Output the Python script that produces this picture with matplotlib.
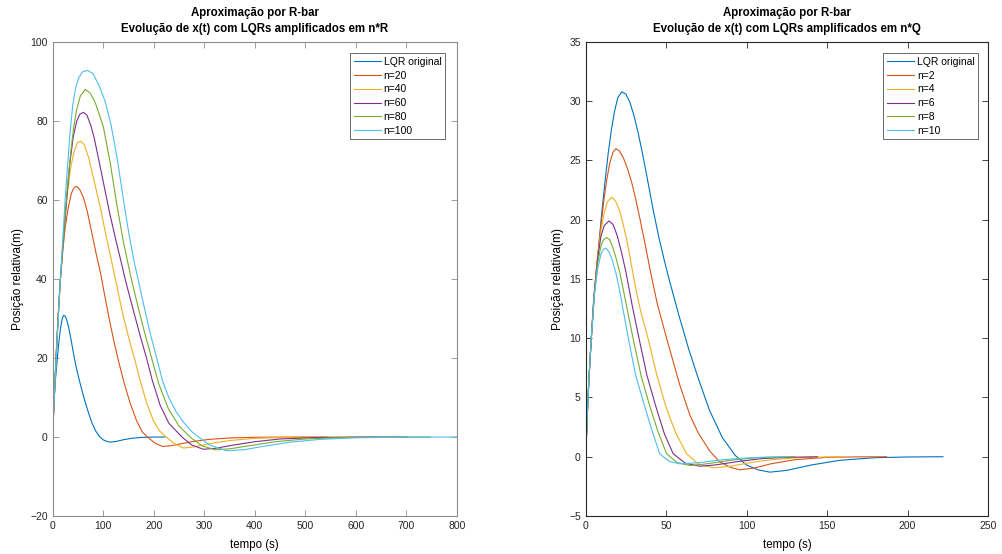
import numpy as np
import matplotlib.pyplot as plt

# ============================================================
# Data (tempo em s, posição em m)
# ============================================================

# LQR original (same curve on both panels)
t_orig = [0, 1, 2, 3.5, 5, 6.5, 8, 10, 12, 14, 16, 18, 20, 22.4, 25, 27.5, 30, 32.5, 35,
          38, 42, 45.5, 49, 52, 58, 64, 70, 77, 85, 93, 100, 107, 114.5, 125, 140, 158,
          180, 200, 222]
x_orig = [0, 3.5, 6.5, 10, 13.3, 15.5, 17.6, 20.6, 23.2, 25.6, 27.6, 29.2, 30.3, 30.8,
          30.6, 29.9, 28.8, 27.4, 25.8, 23.7, 20.8, 18.5, 16.5, 14.9, 11.9, 9.1, 6.6, 3.9,
          1.6, 0.1, -0.7, -1.1, -1.3, -1.15, -0.7, -0.3, -0.08, -0.02, 0]

# --- n*R (left panel) ---
t_r20 = [0, 3.5, 7, 11, 15, 19.5, 25, 31, 37, 40, 43, 45.5, 47.9, 51, 54, 61, 69, 78, 87,
         95, 103, 112, 121, 130, 141, 153, 166, 178, 188, 203, 218, 235, 255, 280, 310,
         350, 400, 460, 543]
x_r20 = [0, 10, 20, 30, 38.5, 46, 53, 58, 61.5, 62.5, 63.1, 63.35, 63.4, 63.1, 62.6, 60.7,
         57, 51.5, 46, 41.5, 36, 30, 24.5, 19.5, 14, 8.8, 4.2, 1.2, 0, -1.6, -2.4, -2.2,
         -1.7, -1.1, -0.6, -0.25, -0.08, -0.02, 0]

t_r40 = [0, 3.5, 7, 11, 15, 20, 28, 35, 42, 49, 55.8, 63, 72, 82, 94, 105, 117, 126, 140,
         152, 163, 175, 186.5, 200, 212, 225, 240, 259, 280, 310, 350, 400, 460, 540, 641]
x_r40 = [0, 10, 20, 30, 39, 47, 60, 67.5, 72, 74.4, 74.9, 74, 70.5, 65, 58.5, 51.5, 44.4,
         39, 30.5, 24.5, 19.5, 13.5, 8.5, 4, 1.5, 0, -1.6, -2.8, -2.5, -1.7, -0.9, -0.35,
         -0.1, -0.02, 0]

t_r60 = [0, 3.5, 7, 11, 15, 20, 26.6, 34, 41, 48, 54, 61, 68, 76, 82.8, 95, 112.5, 125,
         135.6, 143.6, 160, 173, 186, 197, 213, 230, 256, 275, 298, 320, 360, 400, 450, 520,
         600, 701]
x_r60 = [0, 10, 20, 30, 39, 47.5, 58, 69, 76, 80, 81.7, 82.2, 81.5, 78.8, 75.5, 68, 57,
         50, 44.4, 40, 32, 25.8, 20, 14.5, 8, 3.5, 0, -2, -3.1, -2.9, -2, -1.2, -0.5, -0.15,
         -0.03, 0]

t_r80 = [0, 3.5, 7, 11, 15, 20, 24.8, 30, 36, 42, 48, 55, 65, 75, 85, 100.6, 114, 127, 140,
         150, 156.8, 170, 183, 196, 210, 229, 250, 272, 295, 322, 350, 390, 440, 500, 570,
         650, 747]
x_r80 = [0, 10, 20, 30, 39, 48, 56, 64, 72, 78.5, 83, 86.3, 88, 87, 84.5, 78.5, 69.5, 59,
         49.5, 43.5, 39.5, 32.5, 26, 20, 13.5, 7.2, 2.8, 0, -2.2, -3.25, -3, -2.2, -1.2,
         -0.5, -0.15, -0.04, 0]

t_r100 = [0, 4, 8, 12, 16, 20, 25, 30, 34, 40, 46, 52, 60, 69.7, 80, 92, 104, 115.8, 128,
          140, 151, 161.4, 170, 182, 193, 205, 218, 230, 244, 260, 275, 289, 310, 345, 380,
          420, 470, 530, 600, 700, 800]
x_r100 = [0, 11, 21.5, 31.5, 41, 49.5, 60, 69, 76, 84, 88.5, 91, 92.5, 92.8, 92, 89, 85,
          79, 70.5, 60.3, 51.5, 44.4, 39.5, 32.5, 26.4, 20.5, 14, 10, 6.5, 3.6, 1.4, 0, -2,
          -3.5, -3.2, -2.3, -1.3, -0.6, -0.2, -0.04, 0]

# --- n*Q (right panel) ---
t_q2 = [0, 1, 2, 3.5, 5, 7, 9, 11, 13, 15, 17, 18.8, 21, 23.5, 26, 28.5, 31, 34, 37, 40,
        44.5, 50.7, 58.6, 64.8, 70, 77, 83, 90, 95.8, 105, 115, 130, 150, 170, 187]
x_q2 = [0, 3.5, 6.5, 10, 13.2, 16.3, 18.9, 21.3, 23.3, 24.8, 25.7, 26, 25.8, 25.2, 24.3,
        23.2, 21.8, 19.9, 17.9, 15.8, 12.9, 9.8, 6, 3.5, 2, 0.5, -0.4, -0.9, -1.1, -0.95,
        -0.6, -0.25, -0.05, -0.01, 0]

t_q4 = [0, 1, 2, 3.5, 5.5, 7.5, 9.5, 11.5, 13.5, 16.1, 18.5, 21, 23.5, 26, 28, 30, 32, 34,
        38.9, 44, 49.9, 56, 62.7, 70, 79.3, 90, 100, 115, 130, 145, 160]
x_q4 = [0, 3.5, 6.5, 10, 14, 16.9, 19.1, 20.6, 21.5, 21.9, 21.6, 20.8, 19.5, 18, 16.5, 15,
        13.6, 12.4, 9.9, 7, 4.2, 2, 0.25, -0.6, -0.94, -0.8, -0.55, -0.25, -0.1, -0.03, 0]

t_q6 = [0, 1, 2, 3.5, 5.5, 7.5, 9.5, 11.5, 14.5, 17, 19.5, 22, 25, 29, 33.3, 38, 43.7, 49,
        54.4, 62, 71, 80, 95, 110, 125, 144]
x_q6 = [0, 3.5, 6.5, 10, 14, 16.8, 18.6, 19.5, 19.9, 19.6, 18.7, 17.4, 15.6, 12.7, 9.9,
        6.9, 4.2, 1.9, 0.25, -0.55, -0.8, -0.7, -0.4, -0.15, -0.05, 0]

t_q8 = [0, 1, 2, 3.5, 5.5, 7.5, 9.5, 11, 13, 15, 17, 19, 21.3, 25, 29.6, 34.5, 40, 45, 50.3,
        57, 64.8, 75, 90, 105, 118, 130]
x_q8 = [0, 3.5, 6.5, 10, 13.9, 16.4, 17.8, 18.3, 18.5, 18.3, 17.6, 16.7, 15.5, 13, 9.9,
        6.8, 4.2, 2.1, 0.25, -0.5, -0.74, -0.6, -0.3, -0.1, -0.03, 0]

t_q10 = [0, 1, 2, 3.5, 5.5, 7.5, 9.5, 11, 12.6, 14.5, 16.5, 18.8, 21, 23, 26.5, 31, 36.8,
         41, 46, 52, 58.6, 70, 85, 100, 112, 125]
x_q10 = [0, 3.5, 6.5, 10, 13.7, 15.9, 17.1, 17.5, 17.6, 17.3, 16.6, 15.5, 14.1, 12.6, 10,
         6.9, 4.2, 2.3, 0.25, -0.4, -0.6, -0.5, -0.25, -0.1, -0.03, 0]

labels_r = ['LQR original', 'n=20', 'n=40', 'n=60', 'n=80', 'n=100']
labels_q = ['LQR original', 'n=2', 'n=4', 'n=6', 'n=8', 'n=10']

# MATLAB default line colours
colors = ['#0072BD', '#D95319', '#EDB120', '#7E2F8E', '#77AC30', '#4DBEEE']

plt.rcParams['font.family'] = ['Liberation Sans', 'DejaVu Sans']


def style_axes(ax, spine_color):
    """MATLAB-like box with inward ticks on all four sides."""
    for s in ax.spines.values():
        s.set_color(spine_color)
        s.set_linewidth(0.8)
    ax.tick_params(direction='in', top=True, right=True, length=4, width=0.6,
                   colors=spine_color, labelcolor='#262626', labelsize=7.5)


def add_legend(ax, anchor):
    leg = ax.legend(loc='upper right', bbox_to_anchor=anchor, borderaxespad=0,
                    fontsize=7.5, frameon=True, fancybox=False, handlelength=2.6,
                    handletextpad=0.25, labelspacing=0.36, borderpad=0.35)
    leg.get_frame().set_edgecolor('#262626')
    leg.get_frame().set_linewidth(0.6)
    return leg


def dress(ax, title):
    ax.set_xlabel('tempo (s)', fontsize=8.3, labelpad=6)
    ax.set_ylabel('Posição relativa(m)', fontsize=8.6, labelpad=4)
    ax.set_title(title, fontsize=8.3, fontweight='bold', pad=7, linespacing=1.45)


fig = plt.figure(figsize=(10.02, 5.54), dpi=100)

# ------------------------------------------------------------
# Left: amplified R
# ------------------------------------------------------------
ax1 = fig.add_axes([0.0524, 0.0686, 0.4037, 0.8556])
curves_r = [(t_orig, x_orig), (t_r20, x_r20), (t_r40, x_r40),
            (t_r60, x_r60), (t_r80, x_r80), (t_r100, x_r100)]
for (t, x), lab, c in zip(curves_r, labels_r, colors):
    ax1.plot(t, x, color=c, linewidth=0.8, label=lab)
ax1.set_xlim(0, 800)
ax1.set_ylim(-20, 100)
ax1.set_xticks(np.arange(0, 801, 100))
ax1.set_yticks(np.arange(-20, 101, 20))
style_axes(ax1, '#8c8c8c')
dress(ax1, 'Aproximação por R-bar\nEvolução de x(t) com LQRs amplificados em n*R')
add_legend(ax1, (0.9706, 0.9762))

# ------------------------------------------------------------
# Right: amplified Q
# ------------------------------------------------------------
ax2 = fig.add_axes([0.5845, 0.0686, 0.4015, 0.8556])
curves_q = [(t_orig, x_orig), (t_q2, x_q2), (t_q4, x_q4),
            (t_q6, x_q6), (t_q8, x_q8), (t_q10, x_q10)]
for (t, x), lab, c in zip(curves_q, labels_q, colors):
    ax2.plot(t, x, color=c, linewidth=0.8, label=lab)
ax2.set_xlim(0, 250)
ax2.set_ylim(-5, 35)
ax2.set_xticks(np.arange(0, 251, 50))
ax2.set_yticks(np.arange(-5, 36, 5))
style_axes(ax2, '#262626')
dress(ax2, 'Aproximação por R-bar\nEvolução de x(t) com LQRs amplificados em n*Q')
add_legend(ax2, (0.9757, 0.9762))

fig.savefig('out.png', dpi=100)
plt.close(fig)
